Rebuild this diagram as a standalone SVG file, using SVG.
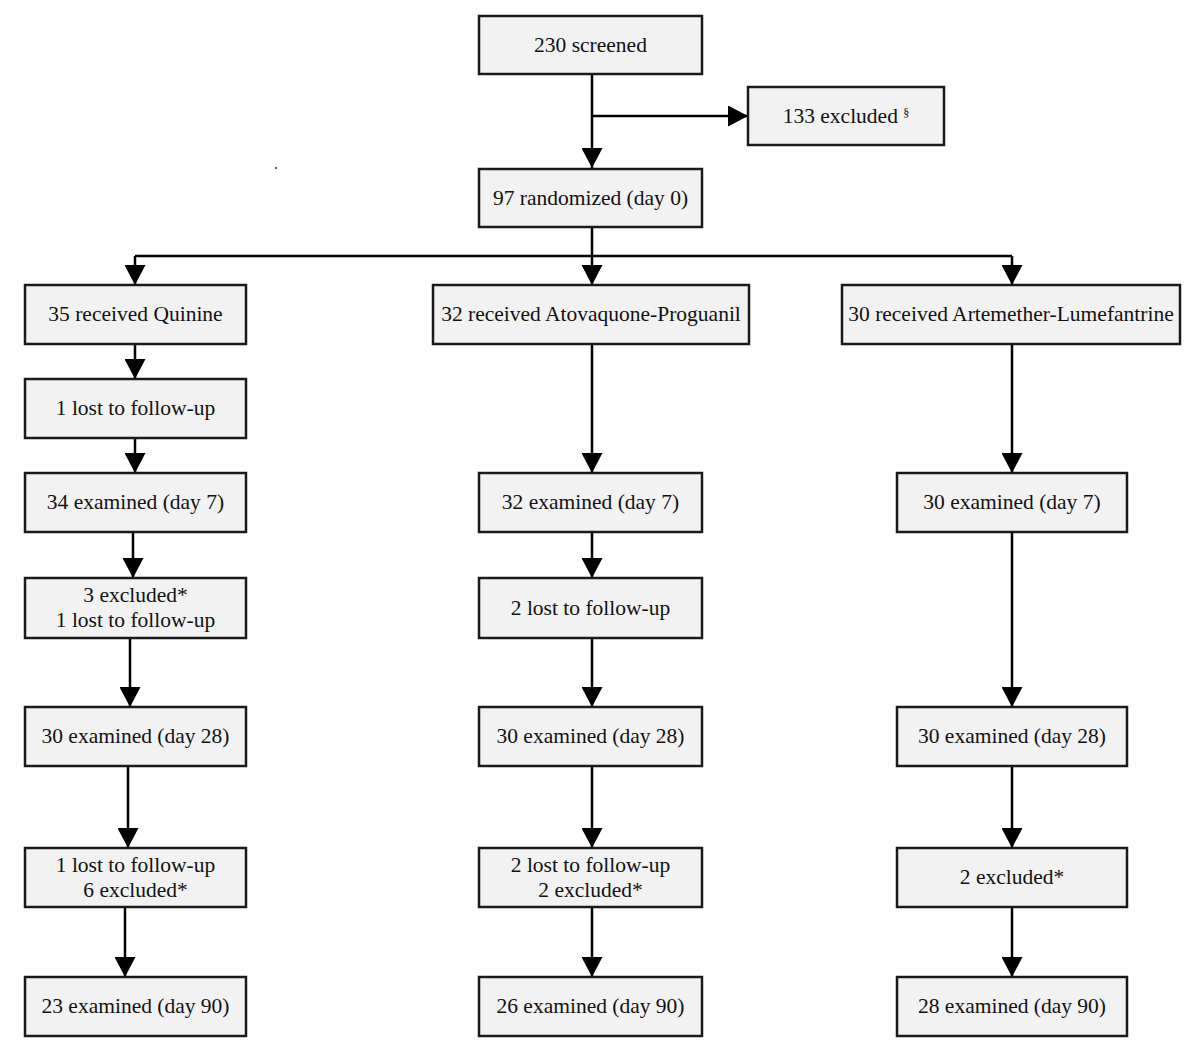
<svg xmlns="http://www.w3.org/2000/svg" width="1200" height="1057" viewBox="0 0 1200 1057">
<style>
.box{fill:#f2f2f2;stroke:#1a1a1a;stroke-width:2.5}
.lbl{font-family:"Liberation Serif","Times New Roman",serif;font-size:21.5px;fill:#111;text-anchor:middle}
.sup{font-size:12px}
.ln{fill:none;stroke:#000;stroke-width:2.5}
</style>
<defs>
<marker id="ah" markerUnits="userSpaceOnUse" markerWidth="20" markerHeight="21" refX="20" refY="10.5" orient="auto" viewBox="0 0 20 21">
<path d="M0,0 L20,10.5 L0,21 Z" fill="#000"/>
</marker>
</defs>
<rect width="1200" height="1057" fill="#fff"/>
<g id="connectors">
<path class="ln" d="M592,74 V168" marker-end="url(#ah)"/>
<path class="ln" d="M592,116 H748" marker-end="url(#ah)"/>
<path class="ln" d="M592,227 V256"/>
<path class="ln" d="M135,256 H1012"/>
<path class="ln" d="M135,256 V285" marker-end="url(#ah)"/>
<path class="ln" d="M592,256 V285" marker-end="url(#ah)"/>
<path class="ln" d="M1012,256 V285" marker-end="url(#ah)"/>
<path class="ln" d="M135,344 V379" marker-end="url(#ah)"/>
<path class="ln" d="M135,438 V473" marker-end="url(#ah)"/>
<path class="ln" d="M133,532 V578" marker-end="url(#ah)"/>
<path class="ln" d="M130,638 V707" marker-end="url(#ah)"/>
<path class="ln" d="M128,766 V848" marker-end="url(#ah)"/>
<path class="ln" d="M125,907 V977" marker-end="url(#ah)"/>
<path class="ln" d="M592,344 V473" marker-end="url(#ah)"/>
<path class="ln" d="M592,532 V578" marker-end="url(#ah)"/>
<path class="ln" d="M592,638 V707" marker-end="url(#ah)"/>
<path class="ln" d="M592,766 V848" marker-end="url(#ah)"/>
<path class="ln" d="M592,907 V977" marker-end="url(#ah)"/>
<path class="ln" d="M1012,344 V473" marker-end="url(#ah)"/>
<path class="ln" d="M1012,532 V707" marker-end="url(#ah)"/>
<path class="ln" d="M1012,766 V848" marker-end="url(#ah)"/>
<path class="ln" d="M1012,907 V977" marker-end="url(#ah)"/>
</g>
<circle cx="276" cy="168" r="1" fill="#333"/>
<g id="screened"><rect class="box" x="479" y="16" width="223" height="58"/><text class="lbl" x="590.5" y="52">230 screened</text></g>
<g id="excluded133"><rect class="box" x="748" y="87" width="196" height="58"/><text class="lbl" x="846" y="123">133 excluded <tspan class="sup" dy="-6">§</tspan></text></g>
<g id="randomized"><rect class="box" x="479" y="169" width="223" height="58"/><text class="lbl" x="590.5" y="205">97 randomized (day 0)</text></g>
<g id="quinine"><rect class="box" x="25" y="285" width="221" height="59"/><text class="lbl" x="135.5" y="321">35 received Quinine</text></g>
<g id="atovaquone"><rect class="box" x="433" y="285" width="316" height="59"/><text class="lbl" x="591" y="321">32 received Atovaquone-Proguanil</text></g>
<g id="artemether"><rect class="box" x="842" y="285" width="338" height="59"/><text class="lbl" x="1011" y="321">30 received Artemether-Lumefantrine</text></g>
<g id="q-lost1"><rect class="box" x="25" y="379" width="221" height="59"/><text class="lbl" x="135.5" y="415">1 lost to follow-up</text></g>
<g id="q-day7"><rect class="box" x="25" y="473" width="221" height="59"/><text class="lbl" x="135.5" y="509">34 examined (day 7)</text></g>
<g id="q-excl1"><rect class="box" x="25" y="578" width="221" height="60"/><text class="lbl" x="135.5" y="602">3 excluded*</text><text class="lbl" x="135.5" y="627">1 lost to follow-up</text></g>
<g id="q-day28"><rect class="box" x="25" y="707" width="221" height="59"/><text class="lbl" x="135.5" y="743">30 examined (day 28)</text></g>
<g id="q-excl2"><rect class="box" x="25" y="848" width="221" height="59"/><text class="lbl" x="135.5" y="872">1 lost to follow-up</text><text class="lbl" x="135.5" y="897">6 excluded*</text></g>
<g id="q-day90"><rect class="box" x="25" y="977" width="221" height="59"/><text class="lbl" x="135.5" y="1013">23 examined (day 90)</text></g>
<g id="a-day7"><rect class="box" x="479" y="473" width="223" height="59"/><text class="lbl" x="590.5" y="509">32 examined (day 7)</text></g>
<g id="a-lost"><rect class="box" x="479" y="578" width="223" height="60"/><text class="lbl" x="590.5" y="615">2 lost to follow-up</text></g>
<g id="a-day28"><rect class="box" x="479" y="707" width="223" height="59"/><text class="lbl" x="590.5" y="743">30 examined (day 28)</text></g>
<g id="a-excl"><rect class="box" x="479" y="848" width="223" height="59"/><text class="lbl" x="590.5" y="872">2 lost to follow-up</text><text class="lbl" x="590.5" y="897">2 excluded*</text></g>
<g id="a-day90"><rect class="box" x="479" y="977" width="223" height="59"/><text class="lbl" x="590.5" y="1013">26 examined (day 90)</text></g>
<g id="r-day7"><rect class="box" x="897" y="473" width="230" height="59"/><text class="lbl" x="1012" y="509">30 examined (day 7)</text></g>
<g id="r-day28"><rect class="box" x="897" y="707" width="230" height="59"/><text class="lbl" x="1012" y="743">30 examined (day 28)</text></g>
<g id="r-excl"><rect class="box" x="897" y="848" width="230" height="59"/><text class="lbl" x="1012" y="884">2 excluded*</text></g>
<g id="r-day90"><rect class="box" x="897" y="977" width="230" height="59"/><text class="lbl" x="1012" y="1013">28 examined (day 90)</text></g>
</svg>
